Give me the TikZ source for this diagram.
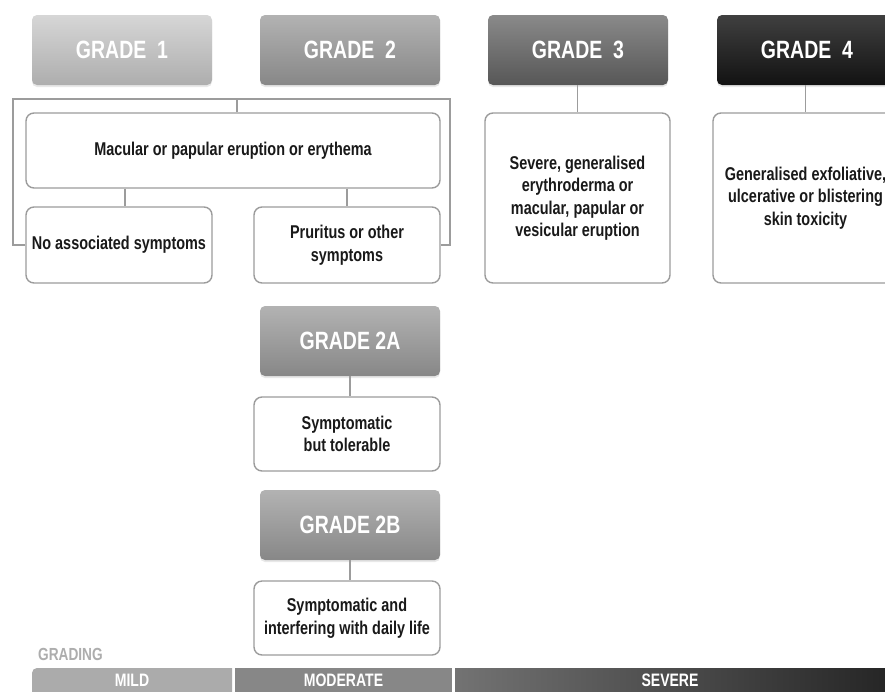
\documentclass[tikz,border=0pt]{standalone}
\usepackage{fontspec}
\setmainfont[FakeStretch=0.78]{Liberation Sans}
\usetikzlibrary{positioning, shadows}
\definecolor{linegray}{HTML}{9C9C9C}
\definecolor{labelgray}{HTML}{ADADAD}
\tikzset{
  gradehead/.style={rounded corners=5pt, minimum width=180pt, minimum height=70pt,
    text=white, font=\bfseries\fontsize{25}{27}\selectfont,
    drop shadow={shadow xshift=0pt, shadow yshift=-2pt, opacity=0.18}},
  descbox/.style={draw=linegray, line width=1.4pt, fill=white, rounded corners=8pt,
    align=center, font=\bfseries\fontsize{18.5}{22.5}\selectfont, text=black!90},
  barseg/.style={minimum height=24pt, inner sep=0pt, text=white,
    font=\bfseries\fontsize{18}{20}\selectfont},
  link/.style={draw=linegray, line width=1.6pt},
}
\begin{document}
\begin{tikzpicture}[x=1pt, y=-1pt]
  \useasboundingbox (0,0) rectangle (885,691);
  \clip (0,0) rectangle (885,691);
  \fill[white] (0,0) rectangle (885,691);
  % grade headers
  \node[gradehead, top color=black!16, bottom color=black!32] (g1) at (122,50) {GRADE\ \ 1};
  \node[gradehead, top color=black!30, bottom color=black!47] (g2) at (350,50) {GRADE\ \ 2};
  \node[gradehead, top color=black!46, bottom color=black!66] (g3) at (578,50) {GRADE\ \ 3};
  \node[gradehead, top color=black!75, bottom color=black!93] (g4) at (807,50) {GRADE\ \ 4};
  % descriptions
  \node[descbox, minimum width=414pt, minimum height=75pt] (mac) at (233,150.5)
    {Macular or papular eruption or erythema};
  \node[descbox, minimum width=186pt, minimum height=76pt, inner sep=1pt] (noas) at (119,245)
    {No associated symptoms};
  \node[descbox, minimum width=186pt, minimum height=76pt] (prur) at (347,245)
    {Pruritus or other\\symptoms};
  \node[descbox, minimum width=185pt, minimum height=170pt] (sev) at (577.5,198)
    {Severe, generalised\\erythroderma or\\macular, papular or\\vesicular eruption};
  \node[descbox, minimum width=185pt, minimum height=170pt] (exf) at (805.5,198)
    {Generalised exfoliative,\\ulcerative or blistering\\skin toxicity};
  % grade 2 subgrades
  \node[gradehead, top color=black!30, bottom color=black!47] (g2a) at (350,341) {GRADE 2A};
  \node[descbox, minimum width=186pt, minimum height=74pt] (tol) at (347,434)
    {Symptomatic\\but tolerable};
  \node[gradehead, top color=black!30, bottom color=black!47] (g2b) at (350,525) {GRADE 2B};
  \node[descbox, minimum width=186pt, minimum height=74pt, inner sep=1pt] (life) at (347,618)
    {Symptomatic and\\interfering with daily life};
  % connectors
  \coordinate (brl) at (13,99);
  \coordinate (brr) at (450,99);
  \draw[link] (noas.west) -- (noas.west -| brl) -- (brl) -- (brr) -- (prur.east -| brr) -- (prur.east);
  \draw[link] (mac.north -| 237,0) -- (237,99);
  \draw[link] (mac.south -| 125,0) -- (noas.north -| 125,0);
  \draw[link] (mac.south -| prur.north) -- (prur.north);
  \draw[link] (g3.south -| sev.north) -- (sev.north);
  \draw[link] (g4.south -| exf.north) -- (exf.north);
  \draw[link] (g2a.south) -- (g2a.south |- tol.north);
  \draw[link] (g2b.south) -- (g2b.south |- life.north);
  % grading scale
  \node[anchor=base west, inner sep=0pt, text=labelgray,
    font=\bfseries\fontsize{17.5}{19}\selectfont] (grd) at (38,660) {GRADING};
  \fill[black!33] (232,668) [rounded corners=5pt] -- (32,668) -- (32,700) [sharp corners] -- (232,700) -- cycle;
  \node[barseg, minimum width=200pt] (mild) at (132,680) {MILD};
  \node[barseg, minimum width=217pt, fill=black!47] (mod) at (343.5,680) {MODERATE};
  \node[barseg, minimum width=430pt, left color=black!55, right color=black!85] (sevr) at (670,680) {SEVERE};
\end{tikzpicture}
\end{document}
